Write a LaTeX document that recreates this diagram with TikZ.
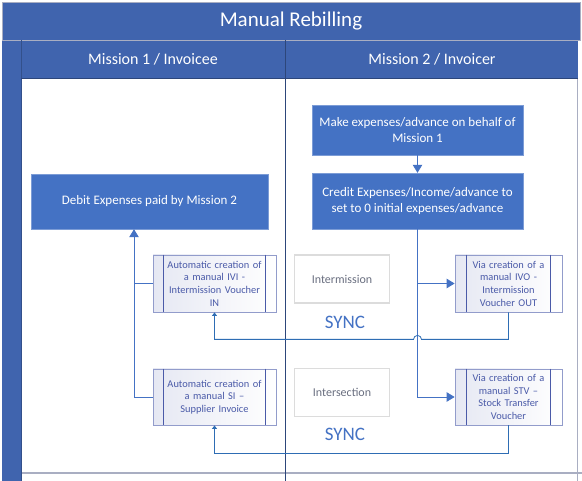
\documentclass[tikz,border=0pt]{standalone}
\usepackage{fontspec}
\setmainfont{Carlito}
\usetikzlibrary{arrows.meta,positioning,calc}

\definecolor{lanebl}{HTML}{4064AE}
\definecolor{boxbl}{HTML}{4472C4}
\definecolor{procbl}{HTML}{4A5AA8}
\definecolor{linkbl}{HTML}{2E6DB4}
\definecolor{tagbd}{HTML}{DCDCDC}
\definecolor{taggr}{HTML}{6A6F80}
\definecolor{rulegr}{HTML}{A9AEC2}

\begin{document}
\begin{tikzpicture}[x=1pt,y=-1pt,>={Triangle[width=9.5pt,length=8pt]},
   blk/.style={rectangle,draw=boxbl!70!white,fill=boxbl,text=white,font=\fontsize{13}{15.5}\selectfont,
     align=center,inner sep=2pt},
   proc/.style={rectangle,draw=procbl!60!white,left color=procbl!14!white,right color=white,
     text=procbl,font=\fontsize{10.4}{12.7}\selectfont,align=center,inner sep=1pt,line width=0.8pt},
   procside/.style={draw=procbl,line width=0.8pt},
   tag/.style={rectangle,draw=tagbd,line width=1.4pt,fill=white,text=taggr,font=\fontsize{12}{14}\selectfont,
     minimum width=95pt,minimum height=48pt},
   sync/.style={text=boxbl,font=\fontsize{19}{21}\selectfont},
   lnk/.style={draw=boxbl,line width=0.8pt},
   back/.style={draw=linkbl,line width=0.8pt,-{Triangle[width=5pt,length=3.5pt]}}]

  \useasboundingbox (0,0) rectangle (582,481);

  % swimlane frame
  \fill[white] (21,78) rectangle (578,481);
  \fill[lanebl] (2,2) rectangle (580,40);
  \fill[lanebl] (2,40) rectangle (21,481);
  \fill[lanebl] (21,40) rectangle (578,78);
  \draw[rulegr,line width=0.8pt] (2,2) rectangle (580,40);
  \draw[rulegr,line width=0.8pt] (577.5,78) -- (577.5,481);
  \draw[rulegr,line width=1.2pt] (21,473) -- (582,473);
  \draw[lanebl!80!black,line width=0.8pt] (21,40) -- (21,481);
  \draw[lanebl!70!black,line width=0.8pt] (285.5,40) -- (285.5,481);
  \draw[lanebl!70!black,line width=0.6pt] (21,78) -- (578,78);

  \node[text=white,font=\fontsize{21}{23}\selectfont] (title) at (291,21) {Manual Rebilling};
  \node[text=white,font=\fontsize{16}{18}\selectfont] (lane1) at (153,59) {Mission 1 / Invoicee};
  \node[text=white,font=\fontsize{16}{18}\selectfont] (lane2) at (432,59) {Mission 2 / Invoicer};

  % Mission 2 steps
  \node[blk,minimum width=211pt,minimum height=50pt] (make) at (417.5,130)
     {Make expenses/advance on behalf of\\Mission 1};
  \node[blk,minimum width=211pt,minimum height=56pt] (credit) at (417.5,201)
     {Credit Expenses/Income/advance to\\set to 0 initial expenses/advance};
  \node[proc,minimum width=107pt,minimum height=57pt,text width=84pt] (ivo) at (508.5,283.5)
     {Via creation of a\\manual IVO -\\Intermission\\Voucher OUT};
  \node[proc,minimum width=107pt,minimum height=56pt,text width=84pt] (stv) at (508.5,397)
     {Via creation of a\\manual STV --\\Stock Transfer\\Voucher};

  % Mission 1 steps
  \node[blk,minimum width=237pt,minimum height=55pt] (debit) at (149.5,201.5)
     {Debit Expenses paid by Mission 2};
  \node[proc,minimum width=123pt,minimum height=57pt,text width=100pt] (ivi) at (214.5,283.5)
     {Automatic creation of\\a manual IVI -\\Intermission Voucher\\IN};
  \node[proc,minimum width=123pt,minimum height=56pt,text width=100pt] (si) at (214.5,397)
     {Automatic creation of\\a manual SI --\\Supplier Invoice};

  \foreach \p/\d in {ivo/12,stv/12,ivi/11,si/11}{
    \draw[procside] ([xshift=\d pt]\p.north west) -- ([xshift=\d pt]\p.south west);
    \draw[procside] ([xshift=-\d pt]\p.north east) -- ([xshift=-\d pt]\p.south east);
  }

  % sync markers
  \node[tag] (tag1) at (342,279) {Intermission};
  \node[tag] (tag2) at (342,392.5) {Intersection};
  \node[sync] (sync1) at (345,322) {SYNC};
  \node[sync] (sync2) at (345,434) {SYNC};

  % connectors
  \coordinate (dbin) at ($(debit.south)+(-15.5,0)$);
  \coordinate (ivoturn) at ($(ivo.south)+(0,27)$);
  \coordinate (stvturn) at ($(stv.south)+(0,28)$);

  \draw[lnk,->] (make) -- (credit);
  \draw[lnk,->] (credit.south) |- (stv.west);
  \draw[lnk,->] (credit.south |- ivo.west) -- (ivo.west);
  \draw[lnk,->] (ivi.west) -| (dbin);
  \draw[lnk] (si.west) -| (dbin |- ivi.west);

  \draw[back] (ivo.south) -- (ivoturn) -- ($(credit.south |- ivoturn)+(4,0)$)
     arc[start angle=0,end angle=-180,radius=4] -- (ivi.south |- ivoturn) -- (ivi.south);
  \draw[back] (stv.south) -- (stvturn) -| (si.south);
\end{tikzpicture}
\end{document}
